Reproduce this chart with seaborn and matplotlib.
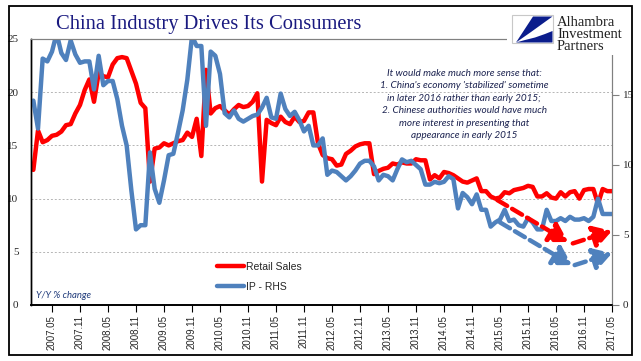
import matplotlib
matplotlib.use("Agg")
import matplotlib.pyplot as plt
import numpy as np
import pandas as pd
import seaborn as sns
from matplotlib.patches import Rectangle, Polygon

# monthly data, 2007.01 - 2017.05
months = pd.period_range("2007-01", "2017-05", freq="M")

retail_sales = [
    12.7, 16.4, 15.3, 15.5, 15.9, 16.0, 16.3, 16.9, 17.0, 18.0, 18.8, 20.2,   # 2007
    21.2, 19.1, 21.8, 21.5, 21.4, 22.6, 23.2, 23.3, 23.2, 22.0, 20.8, 19.0,   # 2008
    18.5, 11.6, 14.7, 14.8, 15.2, 15.0, 15.2, 15.4, 15.5, 16.2, 15.8, 17.5,   # 2009
    14.0, 22.1, 18.0, 18.5, 18.7, 18.3, 17.9, 18.4, 18.8, 18.6, 18.7, 19.1,   # 2010
    19.9, 11.6, 17.4, 17.1, 16.9, 17.7, 17.2, 17.0, 17.7, 17.2, 17.3, 18.1,   # 2011
    18.1, 15.2, 14.1, 13.8, 13.7, 13.1, 13.2, 14.2, 14.5, 14.9, 15.1, 15.2,   # 2012
    15.2, 12.3, 12.6, 12.8, 12.9, 13.3, 13.2, 13.4, 13.3, 13.3, 13.7, 13.6,   # 2013
    13.6, 11.8, 12.2, 11.9, 12.5, 12.4, 12.2, 11.9, 11.6, 11.5, 11.7, 11.9,   # 2014
    10.7, 10.7, 10.2, 10.0, 10.1, 10.6, 10.5, 10.8, 10.9, 11.0, 11.2, 11.1,   # 2015
    10.2, 10.2, 10.5, 10.1, 10.0, 10.6, 10.2, 10.6, 10.7, 10.0, 10.8, 10.9,   # 2016
    10.9, 9.5, 10.9, 10.7, 10.7,                                              # 2017
]

industrial_production = [
    14.6, 12.6, 17.6, 17.4, 18.1, 19.4, 18.0, 17.5, 18.9, 17.9, 17.3, 17.4,   # 2007
    17.4, 15.4, 17.8, 15.7, 16.0, 16.0, 14.7, 12.8, 11.4, 8.2, 5.4, 5.7,      # 2008
    5.7, 10.9, 8.3, 7.3, 8.9, 10.7, 10.8, 12.3, 13.9, 16.1, 19.2, 18.5,       # 2009
    18.5, 12.8, 18.1, 17.8, 16.5, 13.7, 13.4, 13.9, 13.3, 13.1, 13.3, 13.5,   # 2010
    13.6, 14.1, 14.8, 13.4, 13.3, 15.1, 14.0, 13.5, 13.8, 13.2, 12.4, 12.8,   # 2011
    11.4, 11.4, 11.9, 9.3, 9.6, 9.5, 9.2, 8.9, 9.2, 9.6, 10.1, 10.3,          # 2012
    10.3, 9.9, 8.9, 9.3, 9.2, 8.9, 9.7, 10.4, 10.2, 10.3, 10.0, 9.7,          # 2013
    8.6, 8.6, 8.8, 8.7, 8.8, 9.2, 9.0, 6.9, 8.0, 7.7, 7.2, 7.9,               # 2014
    6.8, 6.8, 5.6, 5.9, 6.1, 6.8, 6.0, 6.1, 5.7, 5.6, 6.2, 5.9,               # 2015
    5.4, 5.4, 6.8, 6.0, 6.0, 6.2, 6.0, 6.3, 6.1, 6.1, 6.2, 6.0,               # 2016
    6.3, 7.6, 6.5, 6.5, 6.5,                                                  # 2017
]

# dashed "what it should look like" arrows, (month index, RHS value)
red_arrows = [((99.4, 7.5), (114.6, 4.5)), ((115.6, 4.4), (124.0, 5.3))]
blue_arrows = [((100.0, 5.9), (115.4, 2.85)), ((116.0, 2.85), (124.0, 3.7))]

note_lines = [
    "It would make much more sense that:",
    "1. China's economy 'stabilized' sometime",
    "in later 2016 rather than early 2015;",
    "2. Chinese authorities would have much",
    "more interest in presenting that",
    "appearance in early 2015",
]

RED = "#ff0000"
BLUE = "#4f81bd"
NAVY = "#1a1a80"

df = pd.DataFrame({
    "t": np.arange(len(months)),
    "retail": retail_sales,
    "ip": industrial_production,
})

sns.set_style("white")
plt.rcParams["font.family"] = ["Liberation Sans", "DejaVu Sans"]

fig = plt.figure(figsize=(6.41, 3.61), dpi=100)
ax = fig.add_axes([31 / 641, 1 - 305 / 361, 581 / 641, 266 / 361])
ax2 = ax.twinx()

sns.lineplot(data=df, x="t", y="retail", ax=ax, color=RED, lw=3.2, label="Retail Sales", legend=False)
sns.lineplot(data=df, x="t", y="ip", ax=ax2, color=BLUE, lw=3.2, label="IP - RHS", legend=False)

for arrows, col in [(red_arrows, RED), (blue_arrows, BLUE)]:
    for tail, tip in arrows:
        ax2.annotate("", xy=tip, xytext=tail, annotation_clip=False,
                     arrowprops=dict(arrowstyle="-|>,head_length=0.55,head_width=0.33",
                                     color=col, lw=3.2, linestyle=(0, (2.6, 1.3)),
                                     shrinkA=0, shrinkB=0, mutation_scale=20))

ax.set_xlim(-0.5, 124)
ax.set_ylim(0, 25)
ax2.set_ylim(0, 19)
ax.set_xlabel("")
ax.set_ylabel("")
ax2.set_ylabel("")

tick_pos = np.arange(4, len(months), 6)
ax.set_xticks(tick_pos)
ax.set_xticklabels([months[i].strftime("%Y.%m") for i in tick_pos], rotation=90, fontsize=7)
ax.tick_params(axis="x", direction="out", length=5, width=0.8, color="black", pad=2, bottom=True)

ax.set_yticks([0, 5, 10, 15, 20, 25])
ax.set_yticklabels(["0", "5", "10", "15", "20", "25"], family="Liberation Serif", fontsize=8)
ax.tick_params(axis="y", length=0, pad=9)
ax2.set_yticks([0, 5, 10, 15])
ax2.set_yticklabels(["0", "5", "10", "15"], family="Liberation Serif", fontsize=8)
ax2.tick_params(axis="y", direction="out", length=5, width=0.8, color="#808080", pad=3)

ax.yaxis.grid(True, ls=(0, (2, 2)), color="#b5b5b5", lw=0.7)
ax.set_axisbelow(True)

for a in (ax, ax2):
    a.spines["left"].set_color("black")
    a.spines["bottom"].set_color("black")
    a.spines["bottom"].set_linewidth(1.2)
    a.spines["left"].set_linewidth(1.0)
    a.spines["top"].set_color("#808080")
    a.spines["right"].set_color("#808080")

# legend
h1, l1 = ax.get_legend_handles_labels()
h2, l2 = ax2.get_legend_handles_labels()
fig.legend(h1 + h2, l1 + l2, loc="upper left", bbox_to_anchor=(217 / 641, 1 - 262 / 361),
           frameon=False, fontsize=7.5, handlelength=2.6, handletextpad=0.15,
           labelspacing=0.95, borderpad=0, borderaxespad=0)

# titles and notes
fig.text(209 / 641, 1 - 25 / 361, "China Industry Drives Its Consumers", ha="center", va="center",
         family="Liberation Serif", fontsize=14.8, color=NAVY)
fig.text(464 / 641, 1 - 104.5 / 361, "\n".join(note_lines), ha="center", va="center",
         family="Lato", style="italic", fontsize=7.2, color="#1c2350", linespacing=1.5)
fig.text(36 / 641, 1 - 296 / 361, "Y/Y % change", ha="left", va="center",
         family="Lato", style="italic", fontsize=6.8, color="#1f3a7a")

# logo block
logo = fig.add_axes([507 / 641, 1 - 55 / 361, 122 / 641, 46 / 361])
logo.set_xlim(507, 629)
logo.set_ylim(55, 9)
logo.axis("off")
logo.add_patch(Rectangle((507, 9), 122, 46, color="white", zorder=0))
logo.add_patch(Rectangle((512, 15), 41, 28, fill=False, ec="#c8c8c8", lw=0.8))
logo.add_patch(Polygon([(533, 16.5), (552.5, 16.5), (531, 32), (516, 42.5)], color="#0b1d8c", lw=0))
logo.add_patch(Polygon([(516, 42.5), (552.5, 42.5), (552.5, 31), (545, 34), (535, 37.5), (525, 40)],
                       color="#0b1d8c", lw=0))
for txt, yy in [("Alhambra", 22), ("Investment", 34), ("Partners", 46.5)]:
    logo.text(557, yy, txt, ha="left", va="center", family="Liberation Serif",
              fontsize=10.5, color="#202020")

# outer frame
fig.patches.append(Rectangle((9 / 641, 1 - 355 / 361), 623 / 641, 349 / 361,
                             transform=fig.transFigure, fill=False, ec="black", lw=1.3))

fig.savefig("out.png", dpi=100)
